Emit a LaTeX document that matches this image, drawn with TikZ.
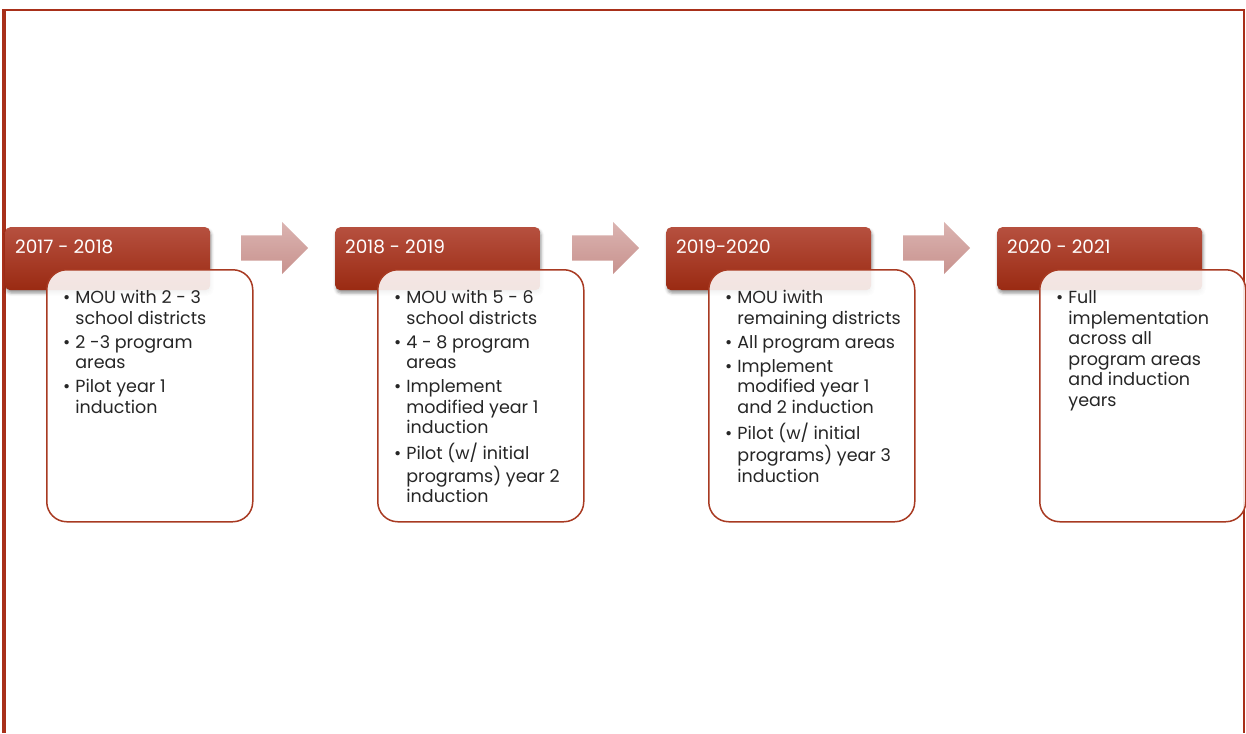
\documentclass[tikz,border=0pt]{standalone}
\usepackage{fontspec}
\setmainfont{Poppins}
\usetikzlibrary{shapes.arrows,shadows.blur}
\definecolor{framered}{HTML}{A8301A}
\definecolor{yeartop}{HTML}{B6503F}
\definecolor{yearbot}{HTML}{9A2A12}
\definecolor{arrowtop}{HTML}{DBB4B1}
\definecolor{arrowbot}{HTML}{C8928E}
\definecolor{boxline}{HTML}{A83A22}
\begin{document}
\begin{tikzpicture}[x=1pt,y=-1pt,
yearbox/.style={anchor=north west,minimum width=205pt,minimum height=63pt,
  rounded corners=5pt,top color=yeartop,bottom color=yearbot,inner sep=0pt,
  blur shadow={shadow xshift=1pt,shadow yshift=-3pt,shadow blur radius=3pt}},
yeartext/.style={anchor=west,text=white,inner sep=0pt,
  font=\fontsize{18.5}{20}\selectfont},
itembox/.style={anchor=north west,minimum width=206pt,minimum height=252pt,
  rounded corners=20pt,draw=boxline,line width=1.5pt,fill=white,
  fill opacity=0.88,inner sep=0pt},
itemtext/.style={anchor=north west,inner sep=0pt,text=black!85,
  font=\fontsize{17.5}{20.5}\selectfont},
stepto/.style={single arrow,anchor=tail,minimum height=67pt,minimum width=52pt,
  single arrow head extend=13.5pt,text height=0pt,text depth=0pt,
  inner xsep=0pt,inner ysep=12.5pt,top color=arrowtop,
  bottom color=arrowbot,draw=none}]
\useasboundingbox (0,0) rectangle (1246,733);
% frame
\draw[framered,line width=4pt] (4,10) -- (4,733);
\draw[framered,line width=2pt] (2,10.5) -- (1245,10.5);
\draw[framered,line width=2pt] (1244,10) -- (1244,733);
% year headers
\node[yearbox] (y1) at (5,227) {};
\node[yearbox] (y2) at (335,227) {};
\node[yearbox] (y3) at (666,227) {};
\node[yearbox] (y4) at (997,227) {};
\node[yeartext] (l1) at ([xshift=10pt,yshift=-20pt]y1.north west) {2017 - 2018};
\node[yeartext] (l2) at ([xshift=10pt,yshift=-20pt]y2.north west) {2018 - 2019};
\node[yeartext] (l3) at ([xshift=10pt,yshift=-20pt]y3.north west) {2019-2020};
\node[yeartext] (l4) at ([xshift=10pt,yshift=-20pt]y4.north west) {2020 - 2021};
% arrows between the years
\node[stepto] (a1) at (241,248) {};
\node[stepto] (a2) at (572,248) {};
\node[stepto] (a3) at (903,248) {};
% content boxes
\node[itembox] (c1) at (46,269) {};
\node[itembox] (c2) at (377,269) {};
\node[itembox] (c3) at (708,269) {};
\node[itembox] (c4) at (1039,269) {};
\node[itemtext] (t1) at ([xshift=17pt,yshift=-20pt]c1.north west)
{\begin{tabular}{@{}l@{\hspace{5pt}}l@{}}
\textbullet & MOU with 2 - 3\\ & school districts\\[3.5pt]
\textbullet & 2 -3 program\\ & areas\\[3.5pt]
\textbullet & Pilot year 1\\ & induction
\end{tabular}};
\node[itemtext] (t2) at ([xshift=17pt,yshift=-20pt]c2.north west)
{\begin{tabular}{@{}l@{\hspace{5pt}}l@{}}
\textbullet & MOU with 5 - 6\\ & school districts\\[3.5pt]
\textbullet & 4 - 8 program\\ & areas\\[3.5pt]
\textbullet & Implement\\ & modified year 1\\ & induction\\[3.5pt]
\textbullet & Pilot (w/ initial\\ & programs) year 2\\ & induction
\end{tabular}};
\node[itemtext] (t3) at ([xshift=17pt,yshift=-20pt]c3.north west)
{\begin{tabular}{@{}l@{\hspace{5pt}}l@{}}
\textbullet & MOU iwith\\ & remaining districts\\[3.5pt]
\textbullet & All program areas\\[3.5pt]
\textbullet & Implement\\ & modified year 1\\ & and 2 induction\\[3.5pt]
\textbullet & Pilot (w/ initial\\ & programs) year 3\\ & induction
\end{tabular}};
\node[itemtext] (t4) at ([xshift=17pt,yshift=-20pt]c4.north west)
{\begin{tabular}{@{}l@{\hspace{5pt}}l@{}}
\textbullet & Full\\ & implementation\\ & across all\\ & program areas\\
 & and induction\\ & years
\end{tabular}};
\end{tikzpicture}
\end{document}
